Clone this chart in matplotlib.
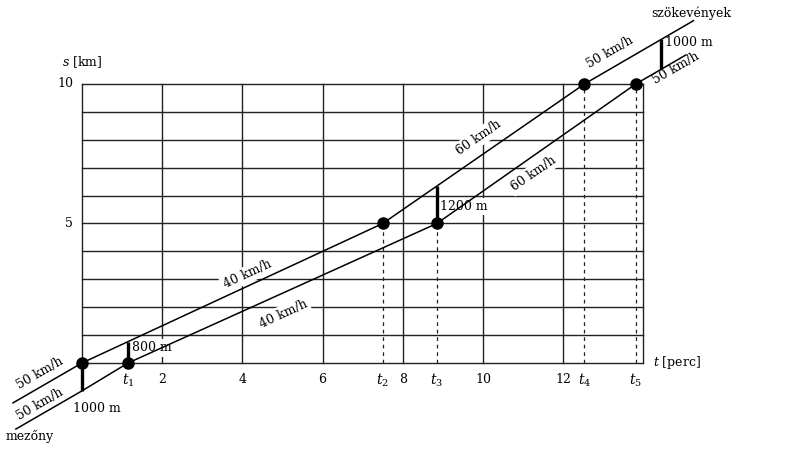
import numpy as np
import matplotlib
matplotlib.use("Agg")
import matplotlib.pyplot as plt

plt.rcParams['font.family'] = ['DejaVu Serif']
plt.rcParams['mathtext.fontset'] = 'dejavuserif'

# szökevények (escape group): time [min], distance [km]
escape_t = [-1.72, 0, 7.5, 12.53, 15.25]
escape_s = [-1.43, 0, 5, 10, 12.27]
# mezőny (peloton)
peloton_t = [-1.65, 0, 1.15, 8.85, 13.81, 15.06]
peloton_s = [-2.37, -1, 0, 5, 10, 11.04]

escape_pts_t = [0, 7.5, 12.53]
escape_pts_s = [0, 5, 10]
peloton_pts_t = [1.15, 8.85, 13.81]
peloton_pts_s = [0, 5, 10]

x_ticks = [2, 4, 6, 8, 10, 12]
y_ticks = [5, 10]
t_marks = [1.15, 7.5, 8.85, 12.53, 13.81]
t_names = ["$t_1$", "$t_2$", "$t_3$", "$t_4$", "$t_5$"]
gap_t = [0, 1.15, 8.85, 14.45]
gap_labels = ["1000 m", "800 m", "1200 m", "1000 m"]

fig = plt.figure(figsize=(8.03, 4.5), dpi=100)
ax = fig.add_axes([0, 0, 1, 1])
ax.set_xlim(-2.045, 17.98)
ax.set_ylim(-3.12, 13.01)
ax.axis('off')

# scale of one unit in pixels, for text rotation
px_t = 40.1
px_s = 27.9
def ang(v):
    return np.degrees(np.arctan(v * px_s / px_t))

# grid
for s in range(0, 11):
    ax.plot([0, 14], [s, s], color='#222222', lw=1.0, zorder=1)
for t in range(0, 15, 2):
    ax.plot([t, t], [0, 10], color='#222222', lw=1.0, zorder=1)

# dashed drop lines
for t, s in zip(t_marks[1:], [5, 5, 10, 10]):
    ax.plot([t, t], [0, s], color='#222222', lw=0.9, ls=(0, (3, 3)), zorder=1)

# the two runs
ax.plot(escape_t, escape_s, color='black', lw=1.1, zorder=3)
ax.plot(peloton_t, peloton_s, color='black', lw=1.1, zorder=3)

# gaps
for t in gap_t:
    lo = np.interp(t, peloton_t, peloton_s)
    hi = np.interp(t, escape_t, escape_s)
    ax.plot([t, t], [lo, hi], color='black', lw=2.4, zorder=3, solid_capstyle='butt')

ax.plot(escape_pts_t + peloton_pts_t, escape_pts_s + peloton_pts_s, 'o',
        color='black', ms=8, zorder=4)

fs = 9
box = dict(facecolor='white', edgecolor='none', pad=1.5)

# tick labels
for t in x_ticks:
    ax.text(t, -0.6, str(t), ha='center', va='center', fontsize=fs)
for t, n in zip(t_marks, t_names):
    ax.text(t, -0.62, n, ha='center', va='center', fontsize=fs + 1)
for s in y_ticks:
    ax.text(-0.22, s, str(s), ha='right', va='center', fontsize=fs)
ax.text(-0.5, 10.8, "$s$ [km]", ha='left', va='center', fontsize=fs)
ax.text(14.25, 0.03, "$t$ [perc]", ha='left', va='center', fontsize=fs)

# gap labels
ax.text(-0.22, -1.65, gap_labels[0], ha='left', va='center', fontsize=fs)
ax.text(1.25, 0.54, gap_labels[1], ha='left', va='center', fontsize=fs, bbox=box, zorder=2)
ax.text(8.93, 5.6, gap_labels[2], ha='left', va='center', fontsize=fs, bbox=box, zorder=2)
ax.text(14.55, 11.5, gap_labels[3], ha='left', va='center', fontsize=fs)

# speed labels
speed_labels = [
    (-1.05, -0.36, "50 km/h", 50),
    (-1.05, -1.47, "50 km/h", 50),
    (4.12, 3.17, "40 km/h", 40),
    (5.02, 1.76, "40 km/h", 40),
    (9.9, 8.08, "60 km/h", 60),
    (11.25, 6.79, "60 km/h", 60),
    (13.17, 11.15, "50 km/h", 50),
    (14.81, 10.57, "50 km/h", 50),
]
for t, s, lab, v in speed_labels:
    ax.text(t, s, lab, ha='center', va='center', fontsize=fs,
            rotation=ang(v / 60.0), rotation_mode='anchor', bbox=box, zorder=2)

ax.text(-1.3, -2.65, "mezőny", ha='center', va='center', fontsize=fs)
ax.text(15.2, 12.55, "szökevények", ha='center', va='center', fontsize=fs)

fig.savefig("out.png", dpi=100)
